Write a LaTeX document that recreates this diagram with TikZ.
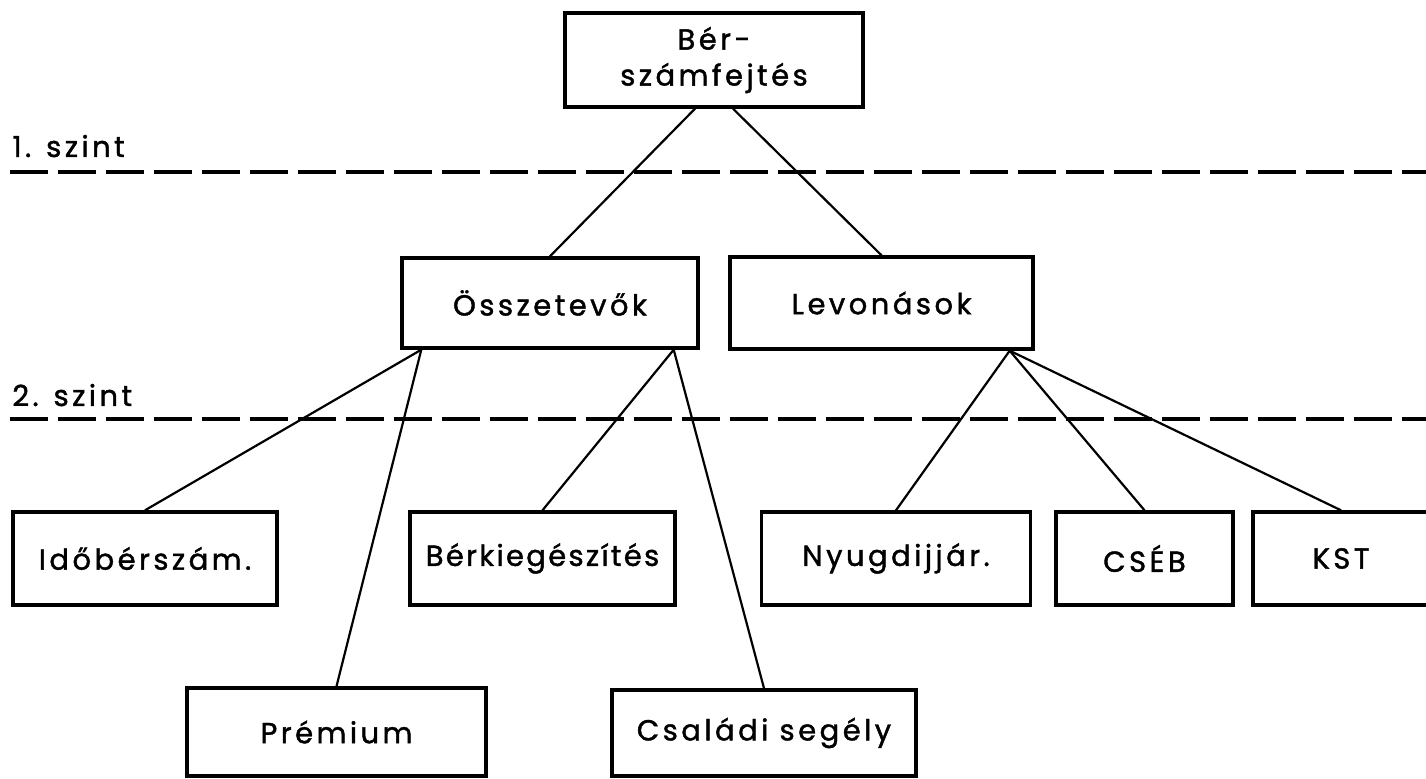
\documentclass[tikz,border=0pt]{standalone}
\usepackage{fontspec}
\setmainfont{Poppins}[LetterSpace=12, FakeBold=1.4]
\begin{document}
\begin{tikzpicture}[x=0.5pt,y=-0.5pt,
  box/.style={draw, line width=1.7pt, inner sep=0pt, align=center,
    font=\fontsize{14.5}{18}\selectfont},
  conn/.style={line width=1.1pt},
  levelline/.style={line width=1.6pt, dash pattern=on 19pt off 5pt},
  levellabel/.style={anchor=base west, inner sep=0pt, font=\fontsize{14.5}{18}\selectfont}]
\clip (0,0) rectangle (1426,779);
\fill[white] (0,0) rectangle (1426,779);
% szintek
\node[levellabel] (lab1) at (12,157){1. szint};
\coordinate (l1a) at (10,172);
\coordinate (l1b) at (1430,172);
\draw[levelline] (l1a) -- (l1b);
\node[levellabel] (lab2) at (12,406){2. szint};
\coordinate (l2a) at (10,419);
\coordinate (l2b) at (1430,419);
\draw[levelline] (l2a) -- (l2b);
% dobozok
\node[box, minimum width=149pt, minimum height=47pt] (ber) at (714,60){Bér-\\számfejtés};
\node[box, minimum width=148pt, minimum height=45pt] (ossz) at (550,303){Összetevők};
\node[box, minimum width=151.5pt, minimum height=46pt] (levon) at (881.5,303){Levonások};
\node[box, minimum width=132pt, minimum height=46.5pt] (idober) at (145,558.5){Időbérszám.};
\node[box, minimum width=132.5pt, minimum height=46.5pt] (berkieg) at (542.5,558.5){\addfontfeatures{LetterSpace=8}Bérkiegészítés};
\node[box, minimum width=134.5pt, minimum height=46.5pt] (nyugdij) at (896,558.5){Nyugdijjár.};
\node[box, minimum width=88.5pt, minimum height=46.5pt] (cseb) at (1144.5,558.5){CSÉB};
\node[box, minimum width=88pt, minimum height=46.5pt] (kst) at (1341,558.5){KST};
\node[box, minimum width=149.5pt, minimum height=44pt] (premium) at (336.5,732){Prémium};
\node[box, minimum width=152pt, minimum height=43pt] (csaladi) at (764,733){Családi segély};
% vonalak
\draw[conn]([xshift=-9.5pt]ber.south) -- (ossz.north);
\draw[conn]([xshift=9.5pt]ber.south) -- (levon.north);
\draw[conn]([xshift=10.5pt]ossz.south west) -- (idober.north);
\draw[conn]([xshift=10.5pt]ossz.south west) -- (premium.north);
\draw[conn]([xshift=-13pt]ossz.south east) -- (berkieg.north);
\draw[conn]([xshift=-13pt]ossz.south east) -- (csaladi.north);
\draw[conn]([xshift=-12.5pt]levon.south east) -- (nyugdij.north);
\draw[conn]([xshift=-12.5pt]levon.south east) -- (cseb.north);
\draw[conn]([xshift=-12.5pt]levon.south east) -- (kst.north);

\end{tikzpicture}
\end{document}
